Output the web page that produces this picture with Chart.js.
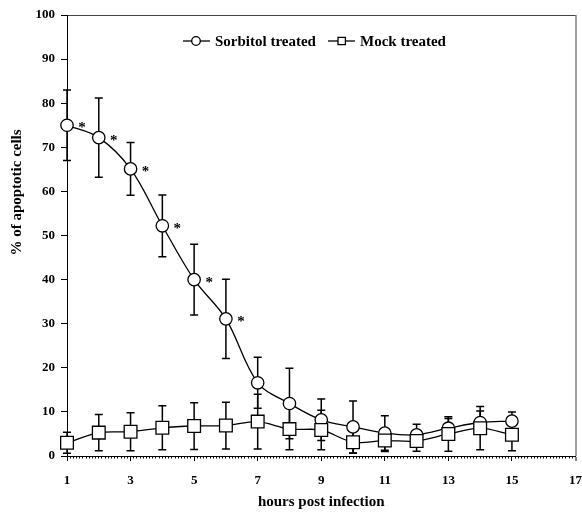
<!DOCTYPE html>
<html>
<head>
<meta charset="utf-8">
<title>Apoptotic cells after infection</title>
<script src="https://cdn.jsdelivr.net/npm/chart.js@4.4.1/dist/chart.umd.min.js"></script>
<style>
    html, body { margin: 0; padding: 0; background: #fff; }
    #wrap { width: 582px; height: 513px; }
</style>
</head>
<body>
<div id="wrap"><canvas id="apoptosisChart" width="582" height="513"></canvas></div>
<script>
// values
const hours = [1, 2, 3, 4, 5, 6, 7, 8, 9, 10, 11, 12, 13, 14, 15];
const sorbitol = [75, 72.2, 65.1, 52.2, 40, 31.1, 16.6, 11.9, 8.2, 6.6, 5.2, 4.8, 6.3, 7.6, 7.9];
const sorbitolErr = [8, 9, 6, 7, 8, 9, 5.8, 8, 4.7, 5.9, 3.9, 2.4, 2.2, 2.6, 2.1];
const mock = [3.0, 5.3, 5.5, 6.4, 6.8, 6.9, 7.8, 6.1, 5.9, 3.1, 3.5, 3.4, 5.0, 6.3, 4.8];
const mockErr = [2.4, 4.1, 4.3, 5.0, 5.3, 5.3, 6.2, 4.7, 4.5, 2.5, 2.5, 2.3, 3.9, 4.9, 3.6];
const significantHours = [1, 2, 3, 4, 5, 6];   // points marked with *
const xTickLabels = [1, 3, 5, 7, 9, 11, 13, 15, 17];
const yTickLabels = [0, 10, 20, 30, 40, 50, 60, 70, 80, 90, 100];

const FONT = "'Liberation Serif', 'Times New Roman', serif";

function toPoints(values) {
    return values.map((v, i) => ({ x: hours[i], y: v }));
}

function isMajorX(value) {
    const r = Math.round(value * 10) / 10;
    return xTickLabels.includes(r);
}

// vertical error bars with caps, under the markers
const errorBars = {
    id: 'errorBars',
    beforeDatasetsDraw(chart) {
        const { ctx, scales: { x, y } } = chart;
        ctx.save();
        ctx.strokeStyle = '#000';
        ctx.lineWidth = 1.5;
        chart.data.datasets.forEach(ds => {
            ds.data.forEach((p, i) => {
                const px = x.getPixelForValue(p.x);
                const top = y.getPixelForValue(p.y + ds.errors[i]);
                const bot = y.getPixelForValue(p.y - ds.errors[i]);
                ctx.beginPath();
                ctx.moveTo(px, top);
                ctx.lineTo(px, bot);
                ctx.moveTo(px - 4, top);
                ctx.lineTo(px + 4, top);
                ctx.moveTo(px - 4, bot);
                ctx.lineTo(px + 4, bot);
                ctx.stroke();
            });
        });
        ctx.restore();
    }
};

// asterisks, legend and the y title
const annotations = {
    id: 'annotations',
    afterDraw(chart) {
        const { ctx, chartArea, scales: { x, y } } = chart;
        ctx.save();
        ctx.fillStyle = '#000';

        // significance marks
        ctx.font = 'bold 15px ' + FONT;
        ctx.textAlign = 'center';
        ctx.textBaseline = 'alphabetic';
        significantHours.forEach(h => {
            const i = hours.indexOf(h);
            const px = x.getPixelForValue(h);
            const py = y.getPixelForValue(sorbitol[i]);
            ctx.fillText('*', px + 15, py + 7);
        });

        // legend: line through a small marker, then the label
        const starts = [chartArea.left + 116, chartArea.left + 261];
        ctx.font = 'bold 15px ' + FONT;
        ctx.textAlign = 'left';
        chart.data.datasets.forEach((ds, k) => {
            const lx = starts[k];
            const ly = chartArea.top + 26;
            ctx.strokeStyle = '#000';
            ctx.lineWidth = 1.3;
            ctx.beginPath();
            ctx.moveTo(lx, ly);
            ctx.lineTo(lx + 27, ly);
            ctx.stroke();
            ctx.fillStyle = '#fff';
            ctx.beginPath();
            if (ds.pointStyle === 'circle') {
                ctx.arc(lx + 13, ly, 4.3, 0, Math.PI * 2);
            } else {
                ctx.rect(lx + 10, ly - 3.7, 7.4, 7.4);
            }
            ctx.fill();
            ctx.stroke();
            ctx.fillStyle = '#000';
            ctx.fillText(ds.label, lx + 32, ly + 5);
        });

        // y axis title, sits above the middle of the axis in the original
        ctx.font = 'bold 15px ' + FONT;
        ctx.textAlign = 'center';
        ctx.textBaseline = 'middle';
        ctx.translate(17, (chartArea.top + chartArea.bottom) / 2 - 43);
        ctx.rotate(-Math.PI / 2);
        ctx.fillText('% of apoptotic cells', 0, 0);
        ctx.restore();
    }
};

Chart.defaults.font.family = FONT;
Chart.defaults.font.weight = 'bold';
Chart.defaults.color = '#000';

new Chart(document.getElementById('apoptosisChart'), {
    type: 'line',
    data: {
        datasets: [
            {
                label: 'Sorbitol treated',
                data: toPoints(sorbitol),
                errors: sorbitolErr,
                order: 1,
                clip: false,
                borderColor: '#000',
                borderWidth: 1.3,
                tension: 0.35,
                pointStyle: 'circle',
                pointRadius: 6.2,
                pointBackgroundColor: '#fff',
                pointBorderColor: '#000',
                pointBorderWidth: 1.3
            },
            {
                label: 'Mock treated',
                data: toPoints(mock),
                errors: mockErr,
                order: 0,
                clip: false,
                borderColor: '#000',
                borderWidth: 1.3,
                tension: 0.3,
                pointStyle: 'rect',
                pointRadius: 9,
                pointBackgroundColor: '#fff',
                pointBorderColor: '#000',
                pointBorderWidth: 1.3
            }
        ]
    },
    options: {
        responsive: false,
        animation: false,
        devicePixelRatio: 1,
        layout: {
            autoPadding: false,   // otherwise the big markers push the right edge in
            padding: { top: 15, right: 6.5, left: 0, bottom: 0 }
        },
        plugins: {
            legend: { display: false },
            tooltip: { enabled: false }
        },
        scales: {
            x: {
                type: 'linear',
                min: 1,
                max: 17,
                afterFit: (scale) => {
                    scale.height = 57;
                    scale.paddingLeft = 0;
                    scale.paddingRight = 0;
                },
                ticks: {
                    stepSize: 0.1,
                    autoSkip: false,
                    maxRotation: 0,
                    padding: 12,
                    font: { size: 13, weight: 'bold' },
                    callback: (v) => {
                        const r = Math.round(v * 10) / 10;
                        return xTickLabels.includes(r) ? String(r) : '';
                    }
                },
                grid: {
                    drawOnChartArea: true,
                    color: (c) => (c.tick && Math.abs(c.tick.value - 17) < 1e-6) ? '#a0a0a0' : 'rgba(0,0,0,0)',
                    lineWidth: (c) => (c.tick && Math.abs(c.tick.value - 17) < 1e-6) ? 2 : 1,
                    tickColor: '#000',
                    tickLength: 5,
                    tickWidth: 1,
                    tickBorderDash: (c) => (c.tick && isMajorX(c.tick.value)) ? [] : [1.5, 10]
                },
                border: { display: true, color: '#000', width: 1 },
                title: {
                    display: true,
                    text: 'hours post infection',
                    font: { size: 15, weight: 'bold' },
                    padding: { top: 2, bottom: 2 }
                }
            },
            y: {
                min: 0,
                max: 100,
                afterFit: (scale) => {
                    scale.width = 67;
                    scale.paddingTop = 0;
                    scale.paddingBottom = 0;
                },
                afterBuildTicks: (scale) => {
                    scale.ticks = yTickLabels.map(v => ({ value: v }));
                },
                ticks: {
                    padding: 6,
                    font: { size: 13, weight: 'bold' }
                },
                grid: {
                    color: (c) => (c.tick && c.tick.value === 100) ? '#444' : 'rgba(0,0,0,0)',
                    tickColor: '#000',
                    tickLength: 6,
                    tickWidth: 1
                },
                border: { display: true, color: '#000', width: 1 }
            }
        }
    },
    plugins: [errorBars, annotations]
});
</script>
</body>
</html>
